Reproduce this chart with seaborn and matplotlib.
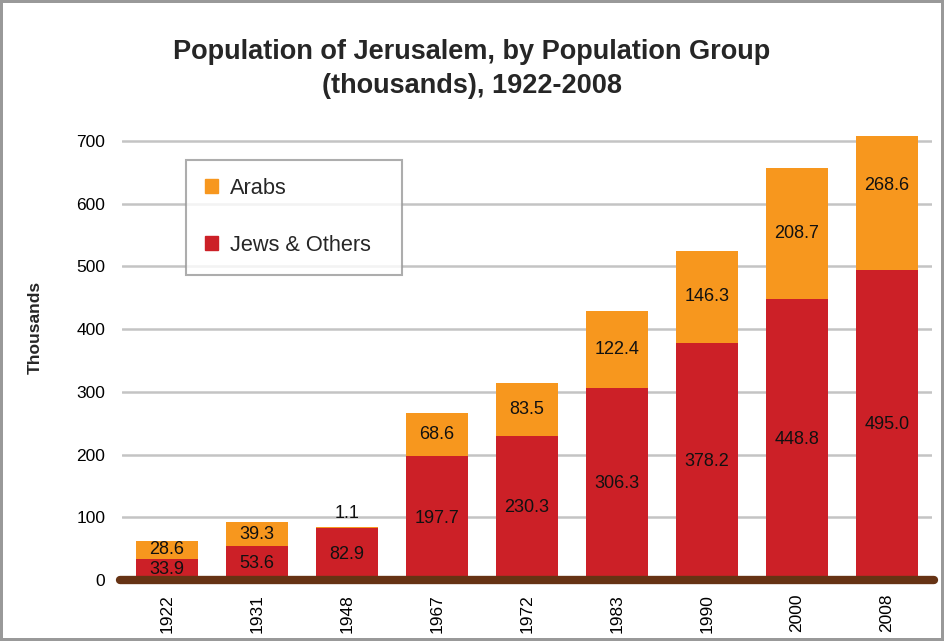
import matplotlib
matplotlib.use("Agg")
import matplotlib.pyplot as plt
import matplotlib.transforms as mtransforms
from matplotlib.patches import Patch
import pandas as pd
import seaborn as sns

years = ["1922", "1931", "1948", "1967", "1972", "1983", "1990", "2000", "2008"]
jews_others = [33.9, 53.6, 82.9, 197.7, 230.3, 306.3, 378.2, 448.8, 495.0]
arabs = [28.6, 39.3, 1.1, 68.6, 83.5, 122.4, 146.3, 208.7, 268.6]

ORANGE = "#F7971E"
RED = "#CC2027"
BROWN = "#663314"

sns.set_theme(style="white")
plt.rcParams['font.family'] = ['Liberation Sans', 'DejaVu Sans']

df = pd.DataFrame({"year": years, "jews": jews_others, "arabs": arabs})
df["total"] = df["jews"] + df["arabs"]

fig = plt.figure(figsize=(9.44, 6.41), dpi=100)
fig.patch.set_edgecolor("#999999")
fig.patch.set_linewidth(3)
# plot area: 0 at y=580 px, top (708) at y=136 px
ax = fig.add_axes([122 / 944, 61 / 641, 810 / 944, 444 / 641])

sns.barplot(data=df, x="year", y="total", color=ORANGE, width=0.68,
            saturation=1, linewidth=0, ax=ax, zorder=2)
sns.barplot(data=df, x="year", y="jews", color=RED, width=0.68,
            saturation=1, linewidth=0, ax=ax, zorder=3)

ax.set_ylim(0, 708)
ax.set_xlim(-0.5, len(years) - 0.5)
ax.set_yticks(range(0, 701, 100))
ax.yaxis.grid(True, color="#C4C4C4", linewidth=1.8, zorder=0)
ax.set_axisbelow(True)
for s in ax.spines.values():
    s.set_visible(False)
ax.tick_params(axis="both", length=0, labelsize=12.5, colors="black")
ax.tick_params(axis="y", pad=12)
ax.tick_params(axis="x", pad=10)
plt.setp(ax.get_xticklabels(), rotation=90)
ax.set_xlabel("")
ax.set_ylabel("")
fig.text(35 / 944, 1 - 327 / 641, "Thousands", rotation=90, ha="center", va="center",
         fontsize=12.5, fontweight="bold")

# value labels
for i, row in df.iterrows():
    ax.text(i, row["jews"] / 2, f"{row['jews']:.1f}", ha="center", va="center",
            fontsize=13, color="#111111", zorder=5)
    if row["arabs"] < 10:
        y = row["total"] + 22
    else:
        y = row["jews"] + row["arabs"] / 2
    ax.text(i, y, f"{row['arabs']:.1f}", ha="center", va="center",
            fontsize=13, color="#111111", zorder=5)

# thick brown baseline
trans = mtransforms.blended_transform_factory(ax.transAxes, ax.transData)
ax.plot([-0.003, 1.002], [0, 0], transform=trans, color=BROWN, linewidth=6,
        solid_capstyle="round", clip_on=False, zorder=6)

handles = [Patch(color=ORANGE, label="Arabs"), Patch(color=RED, label="Jews & Others")]
leg = ax.legend(handles=handles, loc="upper left", mode="expand",
                bbox_to_anchor=(64 / 810, (580 - 164) / 444, 216 / 810, 0.01),
                fontsize=15.7, frameon=True, fancybox=False, handlelength=0.6,
                handleheight=0.6, labelspacing=1.65, borderpad=0.85, handletextpad=0.55,
                borderaxespad=0)
leg.get_frame().set_edgecolor("#999999")
leg.get_frame().set_linewidth(1.5)

fig.text(0.5, 1 - 69 / 641, "Population of Jerusalem, by Population Group\n(thousands), 1922-2008",
         ha="center", va="center", fontsize=19.5, fontweight="bold", linespacing=1.4)

fig.savefig("out.png", dpi=100)
